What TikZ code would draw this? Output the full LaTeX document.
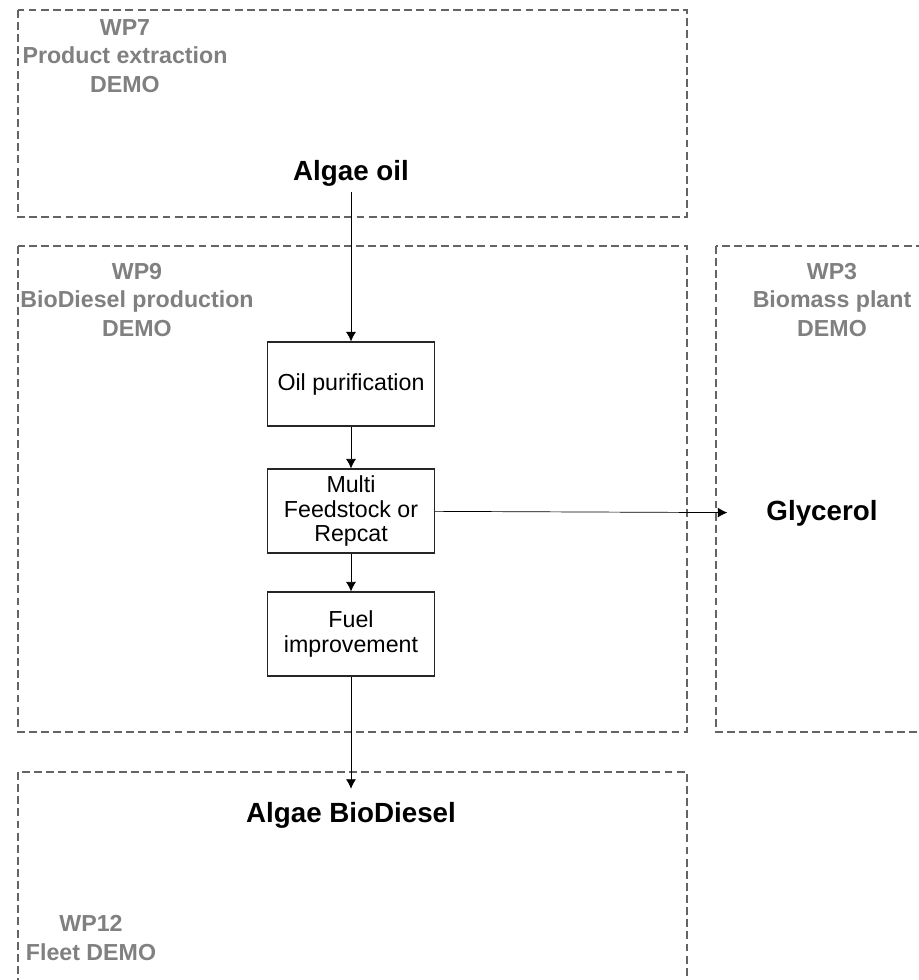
\documentclass[tikz,border=0pt]{standalone}
\usepackage{fontspec}
\setmainfont{Liberation Sans}
\usepackage{tikz}
\usetikzlibrary{arrows.meta}
\usetikzlibrary{positioning}
\definecolor{wpgray}{RGB}{128,128,128}
\definecolor{dashgray}{RGB}{100,100,100}
\tikzset{
  wpbox/.style = {draw=dashgray, line width=1pt, dash pattern=on 4.5pt off 2.4pt},
  wplabel/.style = {align=center, text=wpgray, inner sep=0pt,
    font=\fontsize{13.2}{16.4}\selectfont\bfseries},% nom du work package
  stepbox/.style = {draw=black!85, line width=0.7pt, align=center,
    minimum width=3.34cm, minimum height=1.68cm, inner sep=1pt,
    font=\fontsize{13.2}{14}\selectfont},% etape du procede
  product/.style = {font=\fontsize{15.8}{18}\selectfont\bfseries}% produit
}
\begin{document}
\begin{tikzpicture}[x=0.02cm,y=-0.02cm,->,>={Latex[length=1.9mm,width=2mm]}]
\clip (0,0) rectangle (919,980);
% work packages
\draw[wpbox,-] (18,10) rectangle (687,217);
\draw[wpbox,-] (18,246) rectangle (687,732);
\draw[wpbox,-] (716,246) rectangle (940,732);
\draw[wpbox,-] (18,772) rectangle (687,1000);
\node[wplabel] (wp7) at (125,56) {WP7\\Product extraction\\DEMO};
\node[wplabel] (wp9) at (137,300) {WP9\\BioDiesel production\\DEMO};
\node[wplabel] (wp3) at (832,300) {WP3\\Biomass plant\\DEMO};
\node[wplabel] (wp12) at (91,938) {WP12\\Fleet DEMO};

\node[product] (oil) at (351,173) {Algae oil};
\node[stepbox] (purif) at (351,384) {Oil purification};
\node[stepbox] (multi) at (351,511) {Multi\\Feedstock or\\Repcat};
\node[stepbox] (fuel) at (351,634) {Fuel\\improvement};
\node[product] (diesel) at (351,815) {Algae BioDiesel};
\node[product] (glyc) at (822,513) {Glycerol};

\draw (oil) -- (purif);
\draw (purif) -- (multi);
\draw (multi) -- (fuel);
\draw[shorten >=4pt] (fuel) -- (diesel);
\draw[shorten >=0.66cm] (multi) -- (glyc);
\end{tikzpicture}
\end{document}
